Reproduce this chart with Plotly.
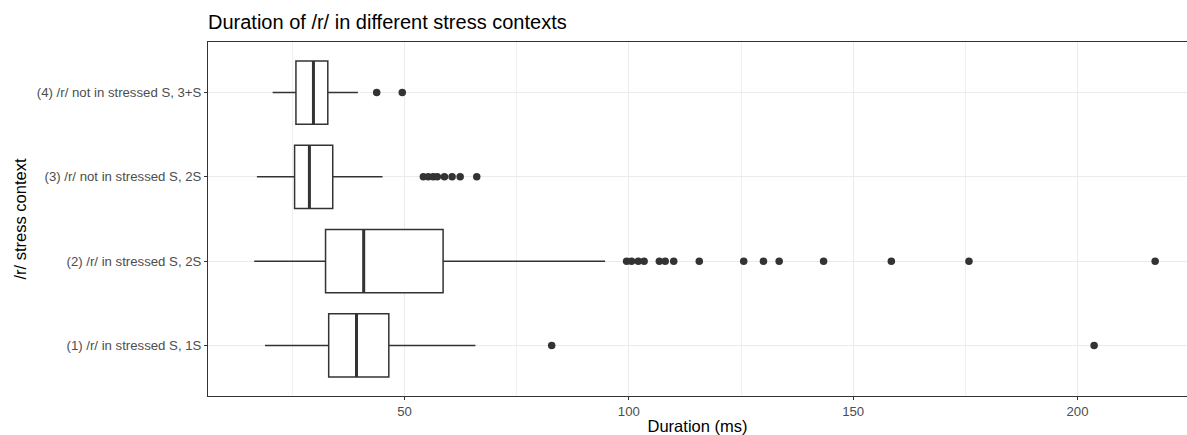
import plotly.graph_objects as go

# ---- data ----
categories = [
    "(1) /r/ in stressed S, 1S",
    "(2) /r/ in stressed S, 2S",
    "(3) /r/ not in stressed S, 2S",
    "(4) /r/ not in stressed S, 3+S",
]
lower_whisker = [18.9, 16.5, 17.1, 20.6]
q1_values = [33.1, 32.4, 25.5, 25.8]
median_values = [39.3, 40.9, 28.8, 29.7]
q3_values = [46.5, 58.6, 34.0, 32.9]
upper_whisker = [65.8, 94.7, 45.1, 39.6]

outliers_1 = [82.8, 203.7]
outliers_2 = [99.5, 100.6, 102.1, 103.4, 106.8, 108.1, 110.0, 115.7,
              125.6, 130.0, 133.5, 143.4, 158.5, 175.8, 217.3]
outliers_3 = [54.2, 55.3, 56.4, 57.3, 58.9, 60.6, 62.4, 66.1]
outliers_4 = [43.8, 49.5]
outliers = [outliers_1, outliers_2, outliers_3, outliers_4]

x_ticks = [50, 100, 150, 200]
x_minor_ticks = [25, 75, 125, 175]

# ---- figure ----
LINE = "#333333"
BOX_W = 0.75
positions = list(range(1, len(categories) + 1))

fig = go.Figure()
for i, pos in enumerate(positions):
    fig.add_trace(go.Box(
        y=[pos], orientation="h",
        q1=[q1_values[i]], median=[median_values[i]], q3=[q3_values[i]],
        lowerfence=[lower_whisker[i]], upperfence=[upper_whisker[i]],
        width=BOX_W, whiskerwidth=0, boxpoints=False,
        fillcolor="white", line=dict(color=LINE, width=1.5),
        showlegend=False, hoverinfo="skip",
    ))
    # thicker median line (ggplot fatten)
    fig.add_trace(go.Scatter(
        x=[median_values[i], median_values[i]],
        y=[pos - BOX_W / 2, pos + BOX_W / 2],
        mode="lines", line=dict(color=LINE, width=3),
        showlegend=False, hoverinfo="skip",
    ))
    fig.add_trace(go.Scatter(
        x=outliers[i], y=[pos] * len(outliers[i]),
        mode="markers", marker=dict(color=LINE, size=7.5, line=dict(width=0)),
        showlegend=False,
    ))

fig.update_layout(
    width=1187, height=435,
    margin=dict(l=208, r=0, t=42, b=39),
    paper_bgcolor="white", plot_bgcolor="white",
    font=dict(family="Liberation Sans, Arial, sans-serif", color="black"),
    title=dict(
        text="Duration of /r/ in different stress contexts",
        font=dict(size=20, color="black"),
        xref="container", x=208 / 1187, xanchor="left",
        yref="container", y=1 - 22 / 435, yanchor="middle",
    ),
    xaxis=dict(
        range=[6.2, 224.4],
        tickvals=x_ticks,
        showgrid=True, gridcolor="#EBEBEB", gridwidth=1,
        minor=dict(tickvals=x_minor_ticks, showgrid=True,
                   gridcolor="#F0F0F0", gridwidth=0.7),
        zeroline=False,
        showline=True, linecolor=LINE, linewidth=1, mirror=True,
        ticks="outside", ticklen=3, tickcolor=LINE, tickwidth=1,
        tickfont=dict(size=13.2, color="#4D4D4D"),
        title=dict(text="Duration (ms)", font=dict(size=16.5, color="black"), standoff=2),
    ),
    yaxis=dict(
        range=[0.4, 4.6],
        tickvals=positions, ticktext=categories,
        showgrid=True, gridcolor="#EBEBEB", gridwidth=1,
        zeroline=False,
        showline=True, linecolor=LINE, linewidth=1,
        ticks="outside", ticklen=3, tickcolor=LINE, tickwidth=1,
        tickfont=dict(size=13.2, color="#4D4D4D"),
        title=dict(text="/r/ stress context", font=dict(size=16.5, color="black"), standoff=6),
    ),
)

fig.write_html("out.html", config={"displayModeBar": False},
               post_script="document.body.style.margin='0';")
